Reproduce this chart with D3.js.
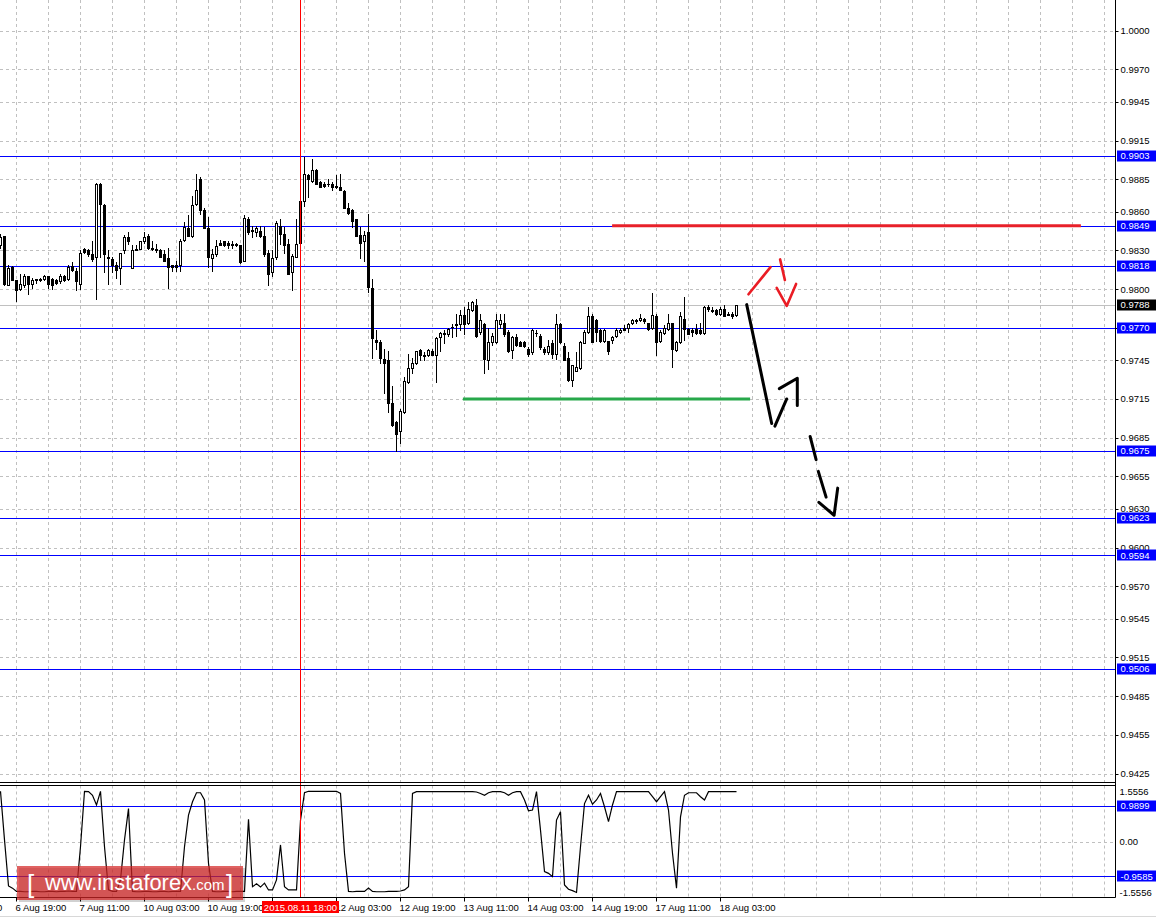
<!DOCTYPE html>
<html>
<head>
<meta charset="utf-8">
<title>USDCHF H1</title>
<script src="https://cdn.jsdelivr.net/npm/d3@7"></script>
<style>
  body { margin: 0; background: #fff; }
  svg { display: block; font-family: "Liberation Sans", Arial, sans-serif; }
</style>
</head>
<body>
<svg id="chart" width="1156" height="917"></svg>
<script>
// H1 bars, bar 0 = 6 Aug 15:00, one bar per trading hour
const opens = [
  .9834,.9841,.9803,.9817,.9807,.9800,.9803,.9810,.9804,.9807,.9808,.9808,.9810,.9808,.9807,.9806,.9810,.9808,.9818,.9814,
  .9804,.9831,.9830,.9827,.9825,.9881,.9865,.9825,.9823,.9819,.9816,.9830,.9840,.9816,.9831,.9831,.9837,.9841,.9832,.9831,
  .9830,.9827,.9824,.9819,.9819,.9819,.9838,.9847,.9841,.9866,.9885,.9861,.9847,.9824,.9827,.9836,.9837,.9836,.9835,.9835,
  .9834,.9822,.9854,.9846,.9844,.9845,.9841,.9828,.9813,.9825,.9849,.9843,.9835,.9813,.9825,.9836,.9868,.9888,.9884,.9892,
  .9883,.9881,.9881,.9881,.9880,.9879,.9876,.9863,.9861,.9854,.9842,.9837,.9844,.9801,.9761,.9759,.9746,.9745,.9712,.9697,
  .9690,.9705,.9728,.9739,.9743,.9753,.9749,.9749,.9752,.9749,.9763,.9766,.9765,.9771,.9772,.9773,.9780,.9774,.9784,.9788,
  .9767,.9773,.9745,.9759,.9759,.9773,.9774,.9767,.9753,.9763,.9759,.9759,.9754,.9751,.9766,.9764,.9754,.9751,.9758,.9750,
  .9773,.9756,.9747,.9730,.9737,.9739,.9758,.9767,.9779,.9776,.9768,.9760,.9760,.9761,.9764,.9767,.9770,.9770,.9774,.9776,
  .9776,.9777,.9774,.9770,.9779,.9760,.9766,.9769,.9774,.9753,.9759,.9777,.9769,.9768,.9769,.9768,.9766,.9786,.9784,.9784,
  .9781,.9785,.9781,.9781,.9780
];
const highs = [
  .9843,.9841,.9819,.9818,.9807,.9812,.9812,.9810,.9809,.9808,.9809,.9811,.9810,.9809,.9808,.9812,.9811,.9819,.9821,.9816,
  .9830,.9832,.9831,.9837,.9882,.9882,.9866,.9830,.9825,.9821,.9828,.9842,.9844,.9834,.9834,.9837,.9844,.9843,.9837,.9835,
  .9831,.9830,.9832,.9819,.9822,.9839,.9852,.9857,.9872,.9889,.9887,.9863,.9856,.9831,.9838,.9838,.9837,.9837,.9837,.9836,
  .9834,.9857,.9856,.9849,.9849,.9849,.9848,.9830,.9830,.9853,.9854,.9848,.9839,.9827,.9854,.9869,.9902,.9889,.9901,.9893,
  .9884,.9883,.9885,.9883,.9888,.9889,.9877,.9867,.9862,.9854,.9848,.9845,.9858,.9808,.9768,.9761,.9754,.9752,.9725,.9698,
  .9707,.9732,.9750,.9747,.9752,.9754,.9751,.9754,.9754,.9763,.9767,.9768,.9770,.9773,.9781,.9784,.9786,.9790,.9791,.9792,
  .9781,.9774,.9770,.9766,.9781,.9781,.9781,.9768,.9764,.9765,.9760,.9760,.9755,.9769,.9768,.9765,.9755,.9761,.9761,.9781,
  .9774,.9758,.9751,.9741,.9751,.9760,.9768,.9786,.9781,.9777,.9769,.9769,.9760,.9764,.9770,.9770,.9772,.9774,.9777,.9777,
  .9781,.9778,.9774,.9797,.9781,.9768,.9772,.9781,.9774,.9760,.9782,.9794,.9770,.9770,.9773,.9774,.9787,.9788,.9786,.9785,
  .9786,.9788,.9782,.9782,.9788
];
const lows = [
  .9832,.9803,.9803,.9807,.9791,.9799,.9802,.9796,.9801,.9805,.9806,.9807,.9801,.9800,.9804,.9805,.9806,.9807,.9814,.9799,
  .9800,.9828,.9826,.9822,.9792,.9825,.9813,.9804,.9813,.9809,.9804,.9828,.9835,.9816,.9830,.9831,.9836,.9831,.9830,.9829,
  .9825,.9822,.9801,.9814,.9814,.9814,.9837,.9841,.9840,.9865,.9858,.9847,.9817,.9814,.9826,.9834,.9833,.9832,.9832,.9833,
  .9820,.9822,.9843,.9840,.9841,.9840,.9826,.9803,.9810,.9823,.9835,.9828,.9812,.9799,.9825,.9834,.9864,.9871,.9883,.9881,
  .9879,.9879,.9880,.9877,.9878,.9877,.9863,.9858,.9848,.9841,.9824,.9822,.9798,.9747,.9754,.9743,.9720,.9705,.9694,.9675,
  .9681,.9704,.9727,.9735,.9742,.9745,.9745,.9748,.9749,.9728,.9752,.9758,.9764,.9763,.9764,.9768,.9765,.9773,.9783,.9763,
  .9765,.9735,.9738,.9757,.9758,.9770,.9764,.9751,.9747,.9756,.9756,.9755,.9748,.9750,.9764,.9754,.9750,.9750,.9747,.9746,
  .9758,.9745,.9729,.9725,.9737,.9738,.9758,.9766,.9759,.9760,.9759,.9759,.9750,.9758,.9763,.9766,.9768,.9767,.9773,.9774,
  .9775,.9774,.9768,.9769,.9749,.9759,.9765,.9768,.9740,.9752,.9758,.9761,.9765,.9764,.9765,.9765,.9765,.9783,.9782,.9780,
  .9780,.9779,.9780,.9778,.9779
];
const closes = [
  .9840,.9804,.9816,.9807,.9799,.9804,.9810,.9804,.9807,.9808,.9807,.9810,.9804,.9803,.9805,.9810,.9807,.9817,.9815,.9806,
  .9828,.9829,.9827,.9823,.9881,.9866,.9827,.9824,.9819,.9815,.9828,.9840,.9837,.9830,.9830,.9837,.9840,.9832,.9831,.9830,
  .9825,.9822,.9817,.9817,.9817,.9837,.9848,.9841,.9865,.9877,.9861,.9847,.9825,.9827,.9833,.9834,.9834,.9834,.9834,.9834,
  .9821,.9855,.9844,.9845,.9847,.9841,.9827,.9812,.9824,.9851,.9843,.9834,.9812,.9826,.9835,.9868,.9889,.9885,.9892,.9881,
  .9879,.9880,.9881,.9879,.9879,.9877,.9863,.9859,.9853,.9841,.9836,.9842,.9802,.9762,.9759,.9747,.9743,.9712,.9695,.9688,
  .9706,.9729,.9739,.9743,.9752,.9749,.9748,.9753,.9749,.9762,.9766,.9765,.9769,.9771,.9773,.9780,.9773,.9785,.9790,.9764,
  .9776,.9746,.9759,.9764,.9776,.9776,.9765,.9752,.9763,.9757,.9756,.9756,.9750,.9768,.9766,.9755,.9751,.9756,.9750,.9773,
  .9759,.9745,.9730,.9741,.9740,.9759,.9767,.9779,.9759,.9767,.9760,.9768,.9752,.9763,.9768,.9768,.9768,.9773,.9776,.9775,
  .9778,.9775,.9769,.9780,.9759,.9767,.9770,.9774,.9754,.9759,.9779,.9769,.9765,.9767,.9766,.9766,.9786,.9785,.9783,.9781,
  .9785,.9779,.9780,.9779,.9788
];
// indicator window, one value per bar
const oscValues = [
  1.40,0.05,-1.23,-1.29,-1.38,-1.38,-1.39,-1.39,-1.38,-1.38,-1.39,-1.39,-1.38,-1.38,-1.39,-1.38,-1.38,-1.37,-1.38,-1.38,
  -0.14,1.40,1.39,1.29,1.02,1.40,-0.14,-1.34,-1.38,-1.38,-1.06,0.05,0.92,-1.38,-1.39,-1.39,-1.38,-1.38,-1.39,-1.39,
  -1.38,-1.38,-1.39,-1.38,-1.38,-1.38,-0.14,0.74,1.11,1.36,1.36,1.16,-0.60,-1.38,-1.39,-1.39,-1.38,-1.38,-1.39,-1.38,
  -1.38,-1.38,0.62,-1.25,-1.17,-1.26,-1.15,-1.34,-1.34,-1.06,-0.09,-1.25,-1.34,-1.34,-1.34,0.60,1.36,1.40,1.40,1.40,
  1.40,1.40,1.40,1.40,1.40,1.34,-0.32,-1.38,-1.39,-1.38,-1.38,-1.38,-1.29,-1.38,-1.39,-1.39,-1.39,-1.38,-1.38,-1.38,
  -1.37,-1.34,-1.25,1.34,1.39,1.39,1.39,1.39,1.39,1.39,1.39,1.39,1.39,1.39,1.39,1.39,1.39,1.39,1.39,1.38,
  1.34,1.29,1.36,1.39,1.39,1.39,1.36,1.29,1.36,1.39,1.39,1.16,0.86,0.88,1.39,0.32,-0.83,-0.88,-0.97,0.60,
  0.83,-1.20,-1.32,-1.36,-1.41,-0.14,1.06,1.29,1.04,1.16,1.34,0.97,0.56,1.02,1.39,1.39,1.39,1.39,1.39,1.39,
  1.39,1.39,1.39,1.25,1.11,1.25,1.39,0.88,-0.32,-1.29,0.69,1.29,1.36,1.36,1.36,1.25,1.16,1.39,1.39,1.39,
  1.39,1.39,1.39,1.39,1.39
];

// right scale labels
const priceTicks = ["1.0000","0.9970","0.9945","0.9915","0.9885","0.9860","0.9830","0.9800","0.9770","0.9745",
  "0.9715","0.9685","0.9655","0.9630","0.9600","0.9570","0.9545","0.9515","0.9485","0.9455","0.9425"];
// horizontal levels (blue lines)
const levels = [0.9903, 0.9849, 0.9818, 0.9770, 0.9675, 0.9623, 0.9594, 0.9506];
const bidPrice = 0.9788;
const oscLevels = [0.9899, -0.9585];
const oscTicks = ["1.5556", "0.00", "-1.5556"];

// time axis: bar index of each label
const timeBars = [-12, 4, 20, 36, 52, 68, 84, 100, 116, 132, 148, 164, 180];
const timeLabels = ["6 Aug 03:00","6 Aug 19:00","7 Aug 11:00","10 Aug 03:00","10 Aug 19:00","11 Aug 11:00",
  "12 Aug 03:00","12 Aug 19:00","13 Aug 11:00","14 Aug 03:00","14 Aug 19:00","17 Aug 11:00","18 Aug 03:00"];
const separatorBar = 75;
const separatorLabel = "2015.08.11 18:00";

// hand drawn analysis: [bar, price]
const resistanceLine = [[152.9, 0.9849], [270.1, 0.9849]];
const supportLine = [[115.6, 0.9715], [187.4, 0.9715]];
const redStrokes = [
  [[187.0, 0.9796], [192.5, 0.9817]],
  [[194.9, 0.9823], [196.1, 0.9807]],
  [[194.05, 0.9801], [196.55, 0.9787], [198.9, 0.9804]]
];
const blackStrokes = [
  [[186.55, 0.9788], [192.8, 0.9696]],
  [[193.6, 0.9694], [196.55, 0.9715]],
  [[194.7, 0.9723], [199.2, 0.9731], [199.2, 0.9710]],
  [[202.4, 0.9686], [203.9, 0.9668]],
  [[204.45, 0.9659], [206.4, 0.9639]],
  [[204.6, 0.9635], [208.4, 0.9625], [209.3, 0.9646]]
];

const axisX = 1115.5;
const mainBottom = 782.5, oscTop = 785.5, oscBottom = 897.5;
const gridColor = "#c0c0c0";
const levelColor = "#0000ff";

const x = d3.scaleLinear().domain([0, 1]).range([0.5, 4.5]);
const y = d3.scaleLinear().domain([0.9425, 1.0]).range([773.7, 30.7]);
const yOsc = d3.scaleLinear().domain([-1.5556, 1.5556]).range([897.7, 785.7]);

const svg = d3.select('#chart');
svg.append('rect').attr('width', 1156).attr('height', 917).attr('fill', '#fff');

svg.append('clipPath').attr('id', 'mainClip')
  .append('rect').attr('x', 0).attr('y', 0).attr('width', axisX).attr('height', mainBottom);
svg.append('clipPath').attr('id', 'oscClip')
  .append('rect').attr('x', 0).attr('y', oscTop).attr('width', axisX).attr('height', oscBottom - oscTop);

const main = svg.append('g').attr('clip-path', 'url(#mainClip)');
const osc = svg.append('g').attr('clip-path', 'url(#oscClip)');

// grid
const gridBars = d3.range(4, 280, 8);
main.selectAll('.vgrid').data(gridBars).enter().append('line')
  .attr('x1', d => x(d)).attr('x2', d => x(d)).attr('y1', 0).attr('y2', mainBottom)
  .attr('stroke', gridColor).attr('stroke-dasharray', '3,3');
main.selectAll('.hgrid').data(priceTicks).enter().append('line')
  .attr('x1', 0).attr('x2', axisX)
  .attr('y1', d => Math.round(y(+d)) + 0.5).attr('y2', d => Math.round(y(+d)) + 0.5)
  .attr('stroke', gridColor).attr('stroke-dasharray', '3,3');
osc.selectAll('.vgrid').data(gridBars).enter().append('line')
  .attr('x1', d => x(d)).attr('x2', d => x(d)).attr('y1', oscTop).attr('y2', oscBottom)
  .attr('stroke', gridColor).attr('stroke-dasharray', '3,3');
osc.append('line').attr('x1', 0).attr('x2', axisX)
  .attr('y1', Math.round(yOsc(0)) + 0.5).attr('y2', Math.round(yOsc(0)) + 0.5)
  .attr('stroke', gridColor).attr('stroke-dasharray', '3,3');

// bid line
main.append('line').attr('x1', 0).attr('x2', axisX)
  .attr('y1', Math.round(y(bidPrice)) + 0.5).attr('y2', Math.round(y(bidPrice)) + 0.5)
  .attr('stroke', gridColor);

// level lines
main.selectAll('.level').data(levels).enter().append('line')
  .attr('x1', 0).attr('x2', axisX)
  .attr('y1', d => Math.round(y(d)) + 0.5).attr('y2', d => Math.round(y(d)) + 0.5)
  .attr('stroke', levelColor);
osc.selectAll('.level').data(oscLevels).enter().append('line')
  .attr('x1', 0).attr('x2', axisX)
  .attr('y1', d => Math.round(yOsc(d)) + 0.5).attr('y2', d => Math.round(yOsc(d)) + 0.5)
  .attr('stroke', levelColor);

// candles
const bars = opens.map((o, i) => ({ i, o, h: highs[i], l: lows[i], c: closes[i] }));
const candle = main.selectAll('.candle').data(bars).enter().append('g');
candle.append('line')
  .attr('x1', d => x(d.i)).attr('x2', d => x(d.i))
  .attr('y1', d => Math.round(y(d.h))).attr('y2', d => Math.round(y(d.l)) + 1)
  .attr('stroke', '#000');
candle.each(function (d) {
  const g = d3.select(this);
  const top = Math.round(y(Math.max(d.o, d.c)));
  const bot = Math.round(y(Math.min(d.o, d.c)));
  const cx = x(d.i);
  if (d.c > d.o && bot - top >= 2) {
    g.append('rect').attr('x', cx - 1).attr('y', top + 0.5)
      .attr('width', 2).attr('height', bot - top)
      .attr('fill', '#fff').attr('stroke', '#000');
  } else {
    g.append('rect').attr('x', cx - 1.5).attr('y', top)
      .attr('width', 3).attr('height', Math.max(1, bot - top + 1))
      .attr('fill', '#000');
  }
});

// oscillator
osc.append('path').datum(oscValues)
  .attr('d', d3.line().x((d, i) => x(i)).y(d => yOsc(d)))
  .attr('fill', 'none').attr('stroke', '#000').attr('stroke-width', 1.2);

// analysis drawings
const pathLine = d3.line().x(d => x(d[0])).y(d => y(d[1]));
main.append('path').attr('d', pathLine(resistanceLine))
  .attr('stroke', '#e8202a').attr('stroke-width', 3).attr('fill', 'none');
main.append('path').attr('d', pathLine(supportLine))
  .attr('stroke', '#27a84a').attr('stroke-width', 3).attr('fill', 'none');
main.selectAll('.red-stroke').data(redStrokes).enter().append('path')
  .attr('d', pathLine).attr('fill', 'none')
  .attr('stroke', '#ea1c24').attr('stroke-width', 2.6)
  .attr('stroke-linecap', 'round').attr('stroke-linejoin', 'round');
main.selectAll('.black-stroke').data(blackStrokes).enter().append('path')
  .attr('d', pathLine).attr('fill', 'none')
  .attr('stroke', '#000').attr('stroke-width', 3)
  .attr('stroke-linecap', 'round').attr('stroke-linejoin', 'round');

// period separator
svg.append('line')
  .attr('x1', x(separatorBar)).attr('x2', x(separatorBar))
  .attr('y1', 0).attr('y2', oscBottom)
  .attr('stroke', '#ff0000');

// frames
svg.append('line').attr('x1', 0).attr('x2', axisX).attr('y1', mainBottom).attr('y2', mainBottom).attr('stroke', '#000');
svg.append('line').attr('x1', 0).attr('x2', axisX).attr('y1', oscTop).attr('y2', oscTop).attr('stroke', '#000');
svg.append('line').attr('x1', 0).attr('x2', axisX).attr('y1', oscBottom).attr('y2', oscBottom).attr('stroke', '#000');
svg.append('line').attr('x1', axisX).attr('x2', axisX).attr('y1', 0).attr('y2', oscBottom).attr('stroke', '#000');
svg.append('line').attr('x1', 0).attr('x2', 1156).attr('y1', 916.5).attr('y2', 916.5).attr('stroke', '#d8d8d8');

// right price axis
const axisG = svg.append('g').attr('font-size', 9.5).attr('fill', '#000');
axisG.selectAll('.pt').data(priceTicks).enter().append('line')
  .attr('x1', axisX).attr('x2', axisX + 3)
  .attr('y1', d => Math.round(y(+d)) + 0.5).attr('y2', d => Math.round(y(+d)) + 0.5)
  .attr('stroke', '#000');
axisG.selectAll('.pl').data(priceTicks).enter().append('text')
  .attr('x', axisX + 5).attr('y', d => y(+d)).attr('dy', '0.36em')
  .text(d => d);

// level labels
const boxLabel = (yy, txt, fill) => {
  axisG.append('rect').attr('x', axisX + 1.5).attr('y', Math.round(yy) - 5.5)
    .attr('width', 1156 - axisX - 1.5).attr('height', 11).attr('fill', fill);
  axisG.append('text').attr('x', axisX + 5).attr('y', yy).attr('dy', '0.36em')
    .attr('fill', '#fff').text(txt);
};
levels.forEach(v => boxLabel(y(v), v.toFixed(4), levelColor));
boxLabel(y(bidPrice), bidPrice.toFixed(4), '#000');

// oscillator axis
axisG.selectAll('.ot').data(oscTicks).enter().append('text')
  .attr('x', axisX + 4).attr('y', d => yOsc(+d))
  .attr('dy', d => +d > 0 ? '0.95em' : (+d < 0 ? '-0.2em' : '0.36em'))
  .text(d => d);
oscLevels.forEach(v => boxLabel(yOsc(v), v.toFixed(4), levelColor));

// time axis
const timeG = svg.append('g').attr('font-size', 9.5).attr('fill', '#000');
timeG.selectAll('.tt').data(timeBars).enter().append('line')
  .attr('x1', d => x(d)).attr('x2', d => x(d))
  .attr('y1', oscBottom).attr('y2', oscBottom + 4).attr('stroke', '#000');
timeG.selectAll('.tl').data(timeBars).enter().append('text')
  .attr('x', d => x(d) - 1).attr('y', 911)
  .text((d, i) => timeLabels[i]);
const sepX = x(separatorBar);
timeG.append('rect').attr('x', sepX - 38.5).attr('y', 901).attr('width', 77).attr('height', 12).attr('fill', '#ff0000');
timeG.append('text').attr('x', sepX).attr('y', 911).attr('text-anchor', 'middle')
  .attr('fill', '#fff').text(separatorLabel);

// watermark
const wm = svg.append('g');
wm.append('rect').attr('x', 19).attr('y', 868).attr('width', 226).attr('height', 34).attr('fill', 'rgba(0,0,0,0.18)');
wm.append('rect').attr('x', 17).attr('y', 866).attr('width', 226).attr('height', 34).attr('fill', 'rgba(212,38,38,0.72)');
wm.append('text').attr('x', 27).attr('y', 893).attr('font-size', 26).attr('font-weight', 300)
  .attr('fill', '#fff').text('[');
wm.append('text').attr('x', 45).attr('y', 890).attr('font-size', 22)
  .attr('textLength', 147).attr('lengthAdjust', 'spacingAndGlyphs')
  .attr('fill', '#fff').text('www.instaforex');
wm.append('text').attr('x', 192).attr('y', 890).attr('font-size', 15)
  .attr('fill', '#fff').text('.com');
wm.append('text').attr('x', 226).attr('y', 893).attr('font-size', 26).attr('font-weight', 300)
  .attr('fill', '#fff').text(']');
</script>
</body>
</html>
